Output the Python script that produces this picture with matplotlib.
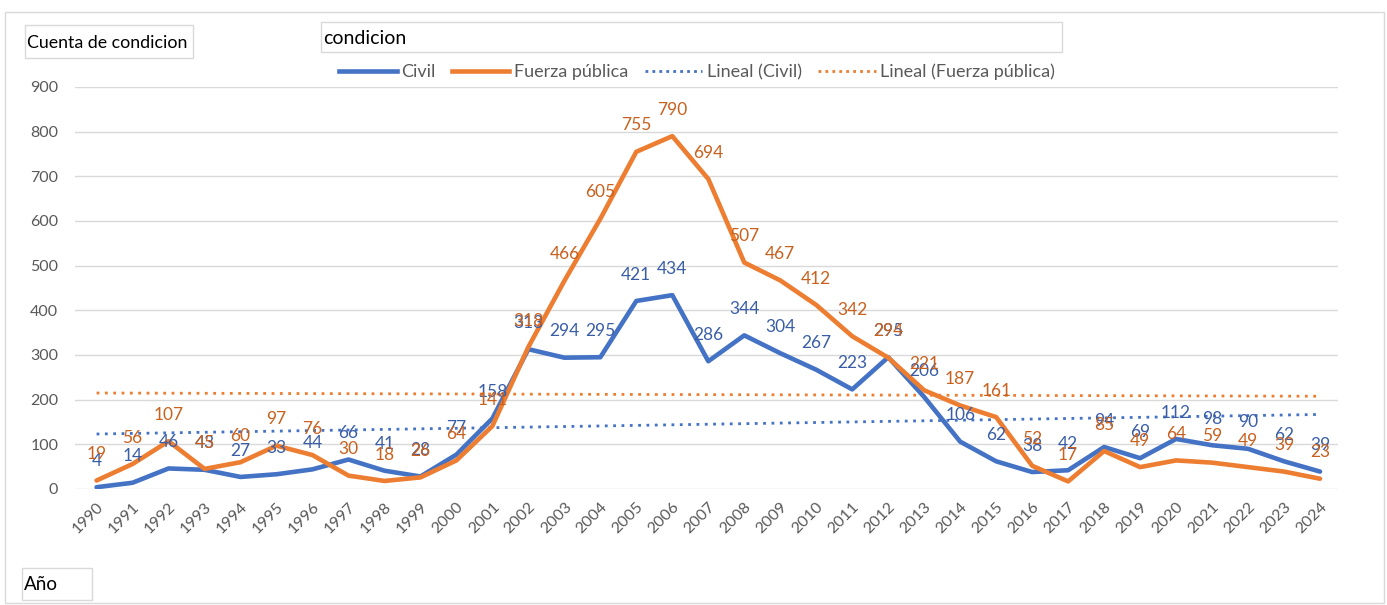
import matplotlib
matplotlib.use("Agg")
import matplotlib.pyplot as plt
from matplotlib.patches import Rectangle
from matplotlib.lines import Line2D
import numpy as np

years = list(range(1990, 2025))
civil = [4, 14, 46, 43, 27, 33, 44, 66, 41, 28, 77, 158, 313, 294, 295, 421, 434,
         286, 344, 304, 267, 223, 295, 206, 106, 62, 38, 42, 94, 69, 112, 98, 90, 62, 39]
fuerza = [19, 56, 107, 45, 60, 97, 76, 30, 18, 26, 64, 141, 318, 466, 605, 755, 790,
          694, 507, 467, 412, 342, 294, 221, 187, 161, 52, 17, 85, 49, 64, 59, 49, 39, 23]
yticks = [0, 100, 200, 300, 400, 500, 600, 700, 800, 900]

plt.rcParams['font.family'] = ['Lato', 'DejaVu Sans']

W, H = 1387, 605
fig = plt.figure(figsize=(W / 100, H / 100), dpi=100)

def fx(px):
    return px / W

def fy(py):
    return 1 - py / H

ax = fig.add_axes([fx(75), fy(489), fx(1338) - fx(75), fy(87) - fy(489)])

c_civil = '#4472C4'
c_fuerza = '#ED7D31'
t_civil = '#3A5EA6'
t_fuerza = '#C9611E'

x = np.array(years)
ax.plot(x, civil, color=c_civil, lw=3.3, solid_capstyle='round', solid_joinstyle='round', zorder=3)
ax.plot(x, fuerza, color=c_fuerza, lw=3.3, solid_capstyle='round', solid_joinstyle='round', zorder=4)

pc = np.polyfit(x, civil, 1)
pf = np.polyfit(x, fuerza, 1)
ax.plot(x, np.polyval(pc, x), color=c_civil, lw=2, ls=(0, (1, 2)), zorder=2)
ax.plot(x, np.polyval(pf, x), color=c_fuerza, lw=2, ls=(0, (1, 2)), zorder=2)

for xi, v in zip(x, civil):
    ax.annotate(str(v), (xi, v), xytext=(0, 19), textcoords='offset points',
                ha='center', va='center', color=t_civil, fontsize=12.5, zorder=5)
for xi, v in zip(x, fuerza):
    ax.annotate(str(v), (xi, v), xytext=(0, 19), textcoords='offset points',
                ha='center', va='center', color=t_fuerza, fontsize=12.5, zorder=6)

ax.set_ylim(0, 900)
ax.set_xlim(1989.4, 2024.5)
ax.set_yticks(yticks)
ax.set_yticklabels([str(t) for t in yticks])
ax.set_xticks(years)
ax.set_xticklabels([str(y) for y in years], rotation=45, ha='right', va='top',
                   rotation_mode='anchor')
ax.tick_params(axis='both', length=0, colors='#595959', labelsize=11.5)
ax.tick_params(axis='y', pad=12)
ax.tick_params(axis='x', pad=8)
ax.grid(axis='y', color='#D9D9D9', lw=1)
ax.set_axisbelow(True)
for s in ax.spines.values():
    s.set_visible(False)

# Outer chart frame
fig.patches.append(Rectangle((fx(5), fy(603)), fx(1384) - fx(5), fy(12) - fy(603),
                             transform=fig.transFigure, fill=False, ec='#D9D9D9', lw=1))

# Field buttons
def box(x0, y0, x1, y1, text, size):
    fig.patches.append(Rectangle((fx(x0), fy(y1)), fx(x1) - fx(x0), fy(y0) - fy(y1),
                                 transform=fig.transFigure, fill=False, ec='#D9D9D9', lw=1))
    fig.text(fx(x0 + 2), fy((y0 + y1) / 2 + 1), text, ha='left', va='center',
             fontsize=size, color='black')

box(25, 25, 193, 58, 'Cuenta de condicion', 12.8)
box(321, 22, 1062, 52, 'condicion', 14)
box(22, 568, 92, 600, 'Año', 13.5)

handles = [Line2D([], [], color=c_civil, lw=3.3),
           Line2D([], [], color=c_fuerza, lw=3.3),
           Line2D([], [], color=c_civil, lw=2, ls=(0, (1, 1.5))),
           Line2D([], [], color=c_fuerza, lw=2, ls=(0, (1, 1.5)))]
labels = ['Civil', 'Fuerza pública', 'Lineal (Civil)', 'Lineal (Fuerza pública)']
fig.legend(handles, labels, loc='center', bbox_to_anchor=(fx(697), fy(72)), ncol=4,
           frameon=False, fontsize=13, labelcolor='#595959', handlelength=3.2,
           handletextpad=0.25, columnspacing=0.9)

fig.savefig('out.png', dpi=100)
